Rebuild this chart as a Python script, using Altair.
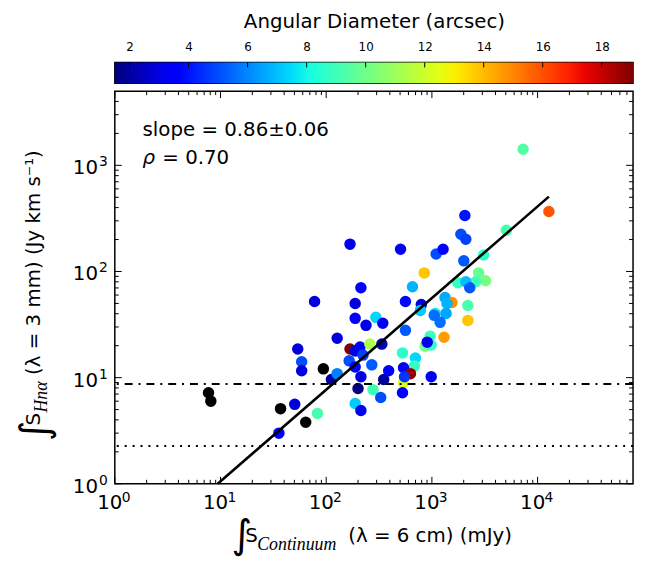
import altair as alt
import numpy as np
import pandas as pd

# ---------------- data ----------------
# sources without an angular diameter (drawn black)
blk_cont = [7.7, 8.1, 37, 64, 94]
blk_hna = [7.2, 6.0, 5.1, 3.8, 12.1]

# sources coloured by angular diameter
cont = [35.7, 50.4, 53.8, 58.6, 58.6, 77.6, 82.7, 112, 127, 127,
        165, 168, 188, 209, 188, 213, 188, 238, 295, 343,
        168, 259, 223, 188, 270, 213, 200, 277, 328, 188,
        213, 336, 350, 390, 505, 562, 794, 778, 562, 527,
        698, 683, 539, 627, 539, 551, 527, 985, 655, 847,
        1097, 1276, 1879, 2094, 2051, 2004, 3083, 5058, 7295, 12790,
        2768, 3219, 2596, 1762, 2094, 2281, 1331, 1549, 1390, 2188,
        2188, 1074, 1052, 1361, 1196, 1303, 964, 865, 985, 903]
hna = [3.0, 5.6, 18.6, 14.1, 11.6, 52.1, 4.6, 9.6, 23.5, 10.9,
       14.4, 18.6, 17.8, 19.4, 49.9, 70.3, 36.2, 31.1, 37.0, 32.5,
       181, 20.7, 16.3, 12.6, 13.2, 10.2, 7.9, 7.7, 6.5, 5.7,
       4.9, 20.7, 9.6, 11.6, 162, 52.1, 48.9, 43.0, 27.9, 17.1,
       15.3, 12.9, 12.4, 10.9, 9.0, 10.2, 7.2, 10.2, 71.8, 97.0,
       146, 162, 224, 201, 337, 126, 143, 244, 1419, 367,
       97.0, 81.7, 80.0, 78.3, 80.0, 70.3, 56.8, 51.0, 49.9, 47.8,
       34.6, 40.3, 38.6, 40.3, 33.2, 24.0, 24.6, 19.8, 20.3, 21.6]
diam = [3.4, 2.9, 2.9, 5.0, 2.9, 2.9, 9.2, 2.0, 2.9, 5.9,
        5.0, 19.0, 2.9, 3.4, 2.9, 3.6, 3.6, 3.0, 7.4, 3.4,
        3.2, 11.3, 4.8, 3.6, 5.2, 3.0, 1.5, 9.0, 5.0, 7.2,
        3.4, 2.2, 2.0, 3.6, 3.4, 3.8, 3.0, 7.2, 5.2, 8.6,
        7.4, 8.8, 3.6, 18.7, 12.4, 4.6, 3.6, 3.6, 6.8, 13.8,
        5.0, 3.6, 5.0, 4.8, 4.0, 5.2, 8.6, 9.2, 9.4, 15.9,
        9.8, 10.2, 9.0, 8.8, 7.0, 5.2, 6.6, 14.8, 6.8, 9.2,
        13.8, 7.8, 5.6, 6.6, 5.6, 14.6, 9.0, 10.0, 8.8, 3.4]

# best-fit line end points and detection limits
fit_cont = [9.4, 12790]
fit_hna = [1.0, 507]
limit_dashdot = 8.7
limit_dotted = 2.27

# axes / ticks
x_major = [1, 10, 100, 1000, 10000]
x_exp = ["0", "1", "2", "3", "4"]
y_major = [1, 10, 100, 1000]
y_exp = ["0", "1", "2", "3"]
XMIN, XMAX = 1, 8e4
YMIN, YMAX = 1, 5000
cb_ticks = [2, 4, 6, 8, 10, 12, 14, 16, 18]
CB_MIN, CB_MAX = 1.5, 19.06

x_minor = [m * 10 ** d for d in range(0, 5) for m in range(2, 10) if m * 10 ** d < XMAX]
y_minor = [m * 10 ** d for d in range(0, 4) for m in range(2, 10) if m * 10 ** d < YMAX]

W, H = 524, 397
FONT = "DejaVu Sans"


# ---------------- jet palette ----------------
def jet(t):
    r = np.interp(t, [0, 0.35, 0.66, 0.89, 1], [0, 0, 1, 1, 0.5])
    g = np.interp(t, [0, 0.125, 0.375, 0.64, 0.91, 1], [0, 0, 1, 1, 0, 0])
    b = np.interp(t, [0, 0.11, 0.34, 0.65, 1], [0.5, 1, 1, 0, 0])
    return "#%02x%02x%02x" % (int(round(r * 255)), int(round(g * 255)), int(round(b * 255)))


stops_t = np.linspace(0, 1, 33)
jet_colors = [jet(t) for t in stops_t]
jet_domain = [float(CB_MIN + t * (CB_MAX - CB_MIN)) for t in stops_t]

# ---------------- main panel ----------------
xs = alt.Scale(type="log", domain=[XMIN, XMAX], nice=False)
ys = alt.Scale(type="log", domain=[YMIN, YMAX], nice=False)
XE = alt.X("x:Q", scale=xs, axis=None)
YE = alt.Y("y:Q", scale=ys, axis=None)

pts = pd.DataFrame({"x": cont, "y": hna, "d": diam})
blk = pd.DataFrame({"x": blk_cont, "y": blk_hna})
fit = pd.DataFrame({"x": fit_cont, "y": fit_hna})

color_scale = alt.Scale(domain=jet_domain, range=jet_colors, interpolate="rgb")

points = alt.Chart(pts).mark_circle(size=135, opacity=1).encode(
    x=XE, y=YE, color=alt.Color("d:Q", scale=color_scale, legend=None))
black_pts = alt.Chart(blk).mark_circle(size=135, opacity=1, color="black").encode(x=XE, y=YE)
fit_line = alt.Chart(fit).mark_line(color="black", strokeWidth=2.6).encode(x=XE, y=YE)
dashdot = alt.Chart(pd.DataFrame({"y": [limit_dashdot]})).mark_rule(
    color="black", strokeWidth=2, strokeDash=[8, 6, 2, 6]).encode(y=YE)
dotted = alt.Chart(pd.DataFrame({"y": [limit_dotted]})).mark_rule(
    color="black", strokeWidth=2, strokeDash=[2, 6]).encode(y=YE)


def xticks(vals, length):
    df = pd.DataFrame({"x": vals})
    b = alt.Chart(df).mark_rule(color="black", strokeWidth=1).encode(
        x=XE, y=alt.value(H), y2=alt.value(H - length))
    t = alt.Chart(df).mark_rule(color="black", strokeWidth=1).encode(
        x=XE, y=alt.value(0), y2=alt.value(length))
    return [b, t]


def yticks(vals, length):
    df = pd.DataFrame({"y": vals})
    l = alt.Chart(df).mark_rule(color="black", strokeWidth=1).encode(
        y=YE, x=alt.value(0), x2=alt.value(length))
    r = alt.Chart(df).mark_rule(color="black", strokeWidth=1).encode(
        y=YE, x=alt.value(W), x2=alt.value(W - length))
    return [l, r]


# tick labels "10" with a raised exponent
xl = pd.DataFrame({"x": x_major, "e": x_exp})
yl = pd.DataFrame({"y": y_major, "e": y_exp})
x_lab_base = alt.Chart(xl).mark_text(text="10", fontSize=20, font=FONT, align="center",
                                     baseline="alphabetic", dx=-5, color="black").encode(
    x=XE, y=alt.value(H + 26))
x_lab_exp = alt.Chart(xl).mark_text(fontSize=14, font=FONT, align="left",
                                    baseline="alphabetic", dx=7, color="black").encode(
    x=XE, y=alt.value(H + 18), text="e:N")
y_lab_base = alt.Chart(yl).mark_text(text="10", fontSize=20, font=FONT, align="right",
                                     baseline="alphabetic", dy=9, color="black").encode(
    y=YE, x=alt.value(-17))
y_lab_exp = alt.Chart(yl).mark_text(fontSize=14, font=FONT, align="left",
                                    baseline="alphabetic", dy=1, color="black").encode(
    y=YE, x=alt.value(-16), text="e:N")

one = pd.DataFrame({"k": [0]})


def txt(s, x, y, size=20, font=FONT, style="normal", angle=0, align="left"):
    return alt.Chart(one).mark_text(text=s, fontSize=size, font=font, fontStyle=style,
                                    angle=angle, align=align, baseline="alphabetic",
                                    color="black").encode(x=alt.value(x), y=alt.value(y))


annots = [
    txt("slope = 0.86\u00b10.06", 28, 45),
    txt("\u03c1", 28, 74, style="italic"),
    txt("= 0.70", 48, 74),
    # x-axis title
    txt("\u222b", 118, 462, size=40),
    txt("S", 132, 456),
    txt("Continuum", 144, 464, size=18, font="Liberation Serif", style="italic"),
    txt("(\u03bb = 6 cm) (mJy)", 236, 456),
    # y-axis title (rotated)
    txt("\u222b", -68, 354, size=40, angle=270),
    txt("S", -76, 338, angle=270),
    txt("Hn\u03b1", -69, 325, size=18, font="Liberation Serif", style="italic", angle=270),
    txt("(\u03bb = 3 mm) (Jy km s\u207b\u00b9)", -76, 287, angle=270),
]

main = alt.layer(
    points, black_pts, fit_line, dashdot, dotted,
    *xticks(x_major, 7), *xticks(x_minor, 4),
    *yticks(y_major, 7), *yticks(y_minor, 4),
    x_lab_base, x_lab_exp, y_lab_base, y_lab_exp,
    *annots,
).properties(width=W, height=H)

# ---------------- colour bar ----------------
cb_scale = alt.Scale(domain=[CB_MIN, CB_MAX], nice=False, zero=False)
grad = alt.Gradient(gradient="linear", x1=0, x2=1, y1=0, y2=0,
                    stops=[alt.GradientStop(color=c, offset=float(t)) for c, t in zip(jet_colors, stops_t)])
cb_axis = alt.Axis(orient="top", values=cb_ticks, ticks=False, domain=False, grid=False,
                   labelFontSize=12, labelPadding=9, labelFlush=False,
                   title="Angular Diameter (arcsec)", titleFontSize=20, titlePadding=9,
                   titleFontWeight="normal")
cb_rect = alt.Chart(pd.DataFrame({"lo": [CB_MIN], "hi": [CB_MAX]})).mark_rect(color=grad).encode(
    x=alt.X("lo:Q", scale=cb_scale, axis=cb_axis), x2="hi:Q", y=alt.value(0), y2=alt.value(21))
cb_tick = alt.Chart(pd.DataFrame({"lo": cb_ticks})).mark_rule(color="black", strokeWidth=1).encode(
    x=alt.X("lo:Q", scale=cb_scale, axis=cb_axis), y=alt.value(0), y2=alt.value(5))
colorbar = alt.layer(cb_rect, cb_tick).properties(width=W, height=21)

chart = alt.vconcat(colorbar, main, spacing=8, bounds="flush").properties(
    padding={"left": 7, "top": 0, "right": 2, "bottom": 0}
).configure_view(stroke="black", strokeWidth=1.5).configure_axis(
    labelFont=FONT, titleFont=FONT, labelColor="black", titleColor="black")

chart.save("out.html", embed_options={"renderer": "svg", "actions": False})
